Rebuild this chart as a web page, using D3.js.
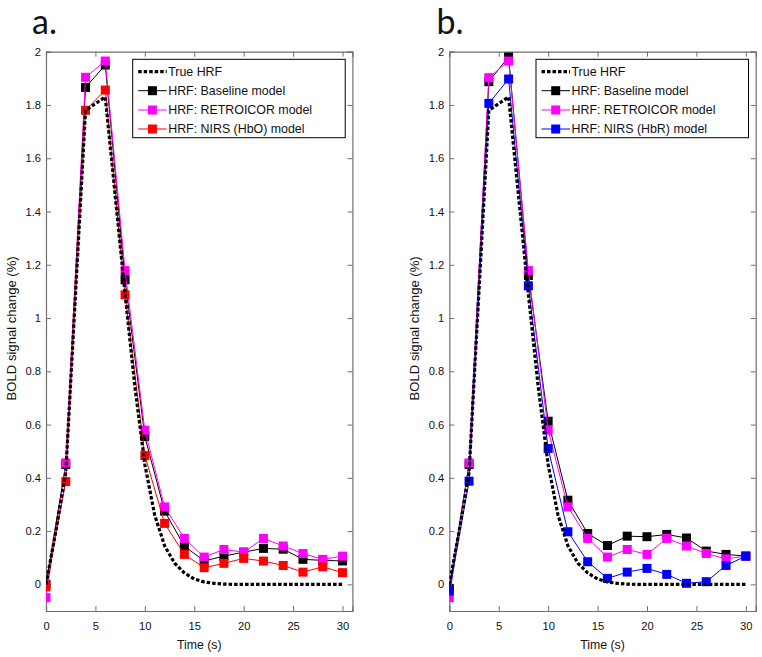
<!DOCTYPE html>
<html>
<head>
<meta charset="utf-8">
<script src="https://cdn.jsdelivr.net/npm/d3@7"></script>
<style>
  html, body { margin: 0; padding: 0; background: #fff; }
  svg { display: block; }
  text { font-family: Arial, "Liberation Sans", Helvetica, sans-serif; }
</style>
</head>
<body>
<svg id="chart" width="762" height="657"></svg>
<script>
// ---------- data ----------
const timeSec = [0, 2, 4, 6, 8, 10, 12, 14, 16, 18, 20, 22, 24, 26, 28, 30];
const trueTime = [0, 1, 2, 3, 4, 5, 6, 7, 8, 9, 10, 11, 12, 13, 14, 15, 16, 17, 18, 19, 20, 21, 22, 23, 24, 25, 26, 27, 28, 29, 30];
const trueHRF = [0, 0.2, 0.42, 1.1, 1.78, 1.805, 1.83, 1.46, 1.09, 0.74, 0.45, 0.26, 0.145, 0.08, 0.043, 0.02, 0.009, 0.004, 0.001, 0, 0, 0, 0, 0, 0, 0, 0, 0, 0, 0, 0];

const baselineA  = [0.0, 0.45, 1.866, 1.95, 1.144, 0.555, 0.275, 0.144, 0.088, 0.106, 0.121, 0.135, 0.132, 0.094, 0.09, 0.088];
const retroicorA = [-0.05, 0.456, 1.904, 1.965, 1.178, 0.579, 0.291, 0.1725, 0.1025, 0.131, 0.121, 0.1725, 0.144, 0.116, 0.094, 0.106];
const nirsHbO    = [-0.009, 0.386, 1.78, 1.856, 1.087, 0.484, 0.229, 0.1125, 0.0625, 0.079, 0.0975, 0.0875, 0.071, 0.046, 0.066, 0.044];

const baselineB  = [-0.015, 0.45, 1.8875, 1.98, 1.16, 0.6125, 0.316, 0.191, 0.146, 0.181, 0.179, 0.1875, 0.174, 0.125, 0.1125, 0.106];
const retroicorB = [-0.05, 0.456, 1.9025, 1.965, 1.178, 0.579, 0.291, 0.1725, 0.1025, 0.131, 0.1125, 0.1725, 0.144, 0.116, 0.096, 0.106];
const nirsHbR    = [-0.025, 0.3875, 1.806, 1.8975, 1.121, 0.51, 0.1975, 0.085, 0.0225, 0.046, 0.06, 0.0375, 0.004, 0.01, 0.071, 0.106];

const xTicks = [0, 5, 10, 15, 20, 25, 30];
const yTicks = [0, 0.2, 0.4, 0.6, 0.8, 1, 1.2, 1.4, 1.6, 1.8, 2];
const xDomain = [0, 31];
const yDomain = [-0.1, 2];

const legendA = ["True HRF", "HRF: Baseline model", "HRF: RETROICOR model", "HRF: NIRS (HbO) model"];
const legendB = ["True HRF", "HRF: Baseline model", "HRF: RETROICOR model", "HRF: NIRS (HbR) model"];
const panelLabels = ["a.", "b."];
const xLabel = "Time (s)";
const yLabel = "BOLD signal change (%)";

// ---------- drawing ----------
const svg = d3.select("#chart");
const axisColor = "#707070";
const FONT = "Arial, 'Liberation Sans', Helvetica, sans-serif";
const legendFs = 12.4, tickFs = 11.2, xLabFs = 12.3, yLabFs = 13.1;

const panels = [
  { left: 46, label: panelLabels[0], labelX: 32, legend: legendA,
    series: [
      { values: baselineA, color: "#000000" },
      { values: retroicorA, color: "#ff00ff" },
      { values: nirsHbO, color: "#ff0000" } ] },
  { left: 449.3, label: panelLabels[1], labelX: 436.5, legend: legendB,
    series: [
      { values: baselineB, color: "#000000" },
      { values: retroicorB, color: "#ff00ff" },
      { values: nirsHbR, color: "#0000ff" } ] }
];

const plotW = 306.4, plotTop = 51.7, plotBottom = 611;
const markerSize = 9;

panels.forEach(p => {
  const x = d3.scaleLinear().domain(xDomain).range([p.left, p.left + plotW]);
  const y = d3.scaleLinear().domain(yDomain).range([plotBottom, plotTop]);
  const g = svg.append("g");

  // panel letter
  svg.append("text").attr("x", p.labelX).attr("y", 34)
    .style("font-family", "Lato, 'Open Sans', sans-serif")
    .style("font-size", "34px").attr("fill", "#111").text(p.label);

  // boxed axes with inward ticks
  const xAxisB = d3.axisBottom(x).tickValues(xTicks).tickSize(-5).tickPadding(11).tickFormat(d3.format("d"));
  const xAxisT = d3.axisTop(x).tickValues(xTicks).tickSize(-5).tickFormat("");
  const yAxisL = d3.axisLeft(y).tickValues(yTicks).tickSize(-5).tickPadding(5).tickFormat(d => d3.format("~g")(d));
  const yAxisR = d3.axisRight(y).tickValues(yTicks).tickSize(-5).tickFormat("");

  const axes = [
    g.append("g").attr("transform", `translate(0,${plotBottom})`).call(xAxisB),
    g.append("g").attr("transform", `translate(0,${plotTop})`).call(xAxisT),
    g.append("g").attr("transform", `translate(${p.left},0)`).call(yAxisL),
    g.append("g").attr("transform", `translate(${p.left + plotW},0)`).call(yAxisR)
  ];
  axes.forEach(a => {
    a.select(".domain").attr("stroke", axisColor).attr("stroke-width", 1.2);
    a.selectAll(".tick line").attr("stroke", axisColor);
    a.selectAll(".tick text").attr("fill", "#111").style("font-size", tickFs + "px")
      .style("font-family", FONT);
  });

  // axis labels
  g.append("text").attr("x", p.left + plotW / 2).attr("y", 649)
    .attr("text-anchor", "middle").style("font-size", xLabFs + "px").attr("fill", "#111").text(xLabel);
  g.append("text")
    .attr("transform", `translate(${p.left - 30},${(plotTop + plotBottom) / 2 - 3}) rotate(-90)`)
    .attr("text-anchor", "middle").style("font-size", yLabFs + "px").attr("fill", "#111").text(yLabel);

  // clip to the axes box
  const clipId = "clip" + p.label.replace(".", "");
  svg.append("clipPath").attr("id", clipId).append("rect")
    .attr("x", p.left).attr("y", plotTop).attr("width", plotW).attr("height", plotBottom - plotTop);
  const plot = g.append("g").attr("clip-path", `url(#${clipId})`);

  const line = d3.line().x(d => x(d[0])).y(d => y(d[1]));

  // model series with square markers
  p.series.forEach(s => {
    const pts = timeSec.map((t, i) => [t, s.values[i]]);
    plot.append("path").datum(pts).attr("d", line)
      .attr("fill", "none").attr("stroke", s.color).attr("stroke-width", 1);
    plot.selectAll(null).data(pts).enter().append("rect")
      .attr("x", d => x(d[0]) - markerSize / 2).attr("y", d => y(d[1]) - markerSize / 2)
      .attr("width", markerSize).attr("height", markerSize).attr("fill", s.color);
  });

  // true HRF (dashed)
  const truePts = trueTime.map((t, i) => [t, trueHRF[i]]);
  plot.append("path").datum(truePts).attr("d", line)
    .attr("fill", "none").attr("stroke", "#000").attr("stroke-width", 3.2)
    .attr("stroke-dasharray", "3.5,2");

  // legend
  const lx = p.left + 86.7, ly = 59.3, lw = 212.5, lh = 78.4;
  const leg = g.append("g");
  leg.append("rect").attr("x", lx).attr("y", ly).attr("width", lw).attr("height", lh)
    .attr("fill", "#fff").attr("stroke", "#000").attr("stroke-width", 1);
  const rowY = [71.7, 90.7, 110, 129];
  const colors = ["#000000"].concat(p.series.map(s => s.color));
  p.legend.forEach((name, i) => {
    const yy = rowY[i];
    const l = leg.append("line").attr("x1", lx + 5.5).attr("x2", lx + 34).attr("y1", yy).attr("y2", yy)
      .attr("stroke", colors[i]);
    if (i === 0) {
      l.attr("stroke-width", 3.2).attr("stroke-dasharray", "3.5,2");
    } else {
      l.attr("stroke-width", 1);
      leg.append("rect").attr("x", lx + 19.7 - markerSize / 2).attr("y", yy - markerSize / 2)
        .attr("width", markerSize).attr("height", markerSize).attr("fill", colors[i]);
    }
    leg.append("text").attr("x", lx + 35.5).attr("y", yy + 0.36 * legendFs)
      .style("font-size", legendFs + "px").attr("fill", "#111").text(name);
  });
});
</script>
</body>
</html>
